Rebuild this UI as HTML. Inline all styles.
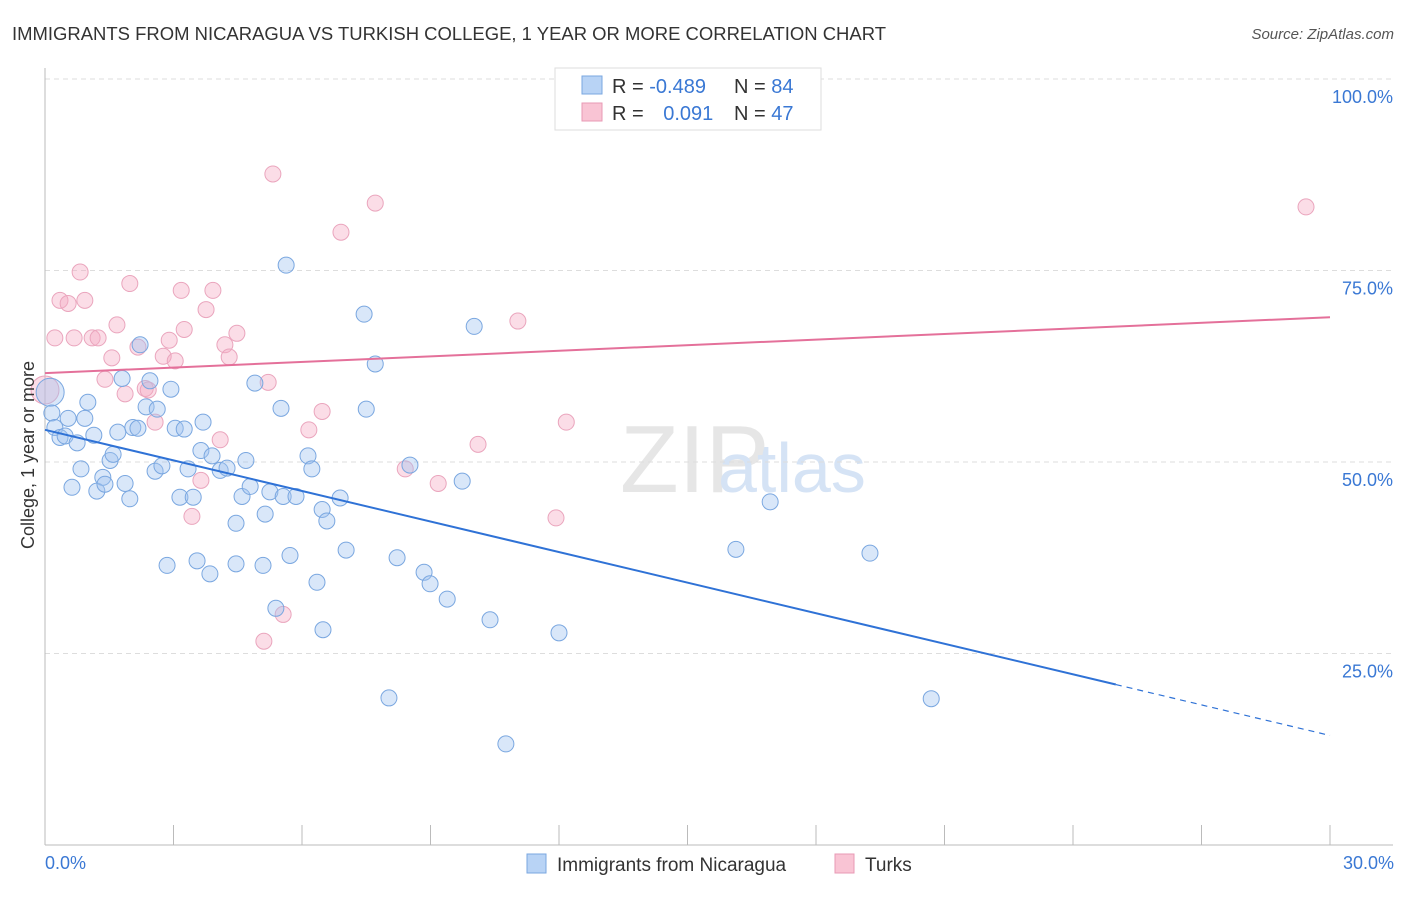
<!DOCTYPE html>
<html><head><meta charset="utf-8"><style>
body{margin:0;background:#fff;font-family:"Liberation Sans",sans-serif;}
svg text{font-family:"Liberation Sans",sans-serif;}
</style></head><body>
<svg id="chart" width="1406" height="892" xmlns="http://www.w3.org/2000/svg">
<text x="12" y="40" font-size="18" fill="#333" textLength="874" lengthAdjust="spacingAndGlyphs">IMMIGRANTS FROM NICARAGUA VS TURKISH COLLEGE, 1 YEAR OR MORE CORRELATION CHART</text>
<text x="1394" y="39" font-size="15" fill="#555" font-style="italic" text-anchor="end">Source: ZipAtlas.com</text>
<text x="620" y="492" font-size="96" fill="#e6e6e6" font-family="Liberation Serif">ZIP</text>
<text x="718" y="492" font-size="70" fill="#d5e3f5">atlas</text>
<g id="grid"></g><g id="pts"></g><g id="trend"></g>
<text transform="translate(34,455) rotate(-90)" font-size="18" fill="#333" text-anchor="middle">College, 1 year or more</text>
<text x="45" y="869" font-size="18" fill="#3a78d4">0.0%</text>
<text x="1394" y="869" font-size="18" fill="#3a78d4" text-anchor="end">30.0%</text>
<g>
<rect x="555" y="68" width="266" height="62" fill="#fff" stroke="#ddd"/>
<rect x="582" y="76" width="20" height="18" fill="#b8d3f5" stroke="#7aa7e0"/>
<text x="612" y="93" font-size="20" fill="#333">R = <tspan fill="#3a78d4">-0.489</tspan></text>
<text x="734" y="93" font-size="20" fill="#333">N = <tspan fill="#3a78d4">84</tspan></text>
<rect x="582" y="103" width="20" height="18" fill="#f9c4d4" stroke="#e89ab5"/>
<text x="612" y="120" font-size="20" fill="#333">R = <tspan fill="#3a78d4" dx="14">0.091</tspan></text>
<text x="734" y="120" font-size="20" fill="#333">N = <tspan fill="#3a78d4">47</tspan></text>
</g>
<g>
<rect x="527" y="854" width="19" height="19" fill="#b8d3f5" stroke="#7aa7e0"/>
<text x="557" y="871" font-size="19" fill="#333">Immigrants from Nicaragua</text>
<rect x="835" y="854" width="19" height="19" fill="#f9c4d4" stroke="#e89ab5"/>
<text x="865" y="871" font-size="19" fill="#333">Turks</text>
</g>
</svg>
<script>
const blueX=[0.12,0.16,0.23,0.35,0.54,0.47,0.75,0.63,0.84,1.0,0.93,1.14,1.21,1.35,1.4,1.52,1.59,1.7,1.8,1.87,1.98,2.05,2.17,2.22,2.36,2.45,2.62,2.57,2.73,2.85,2.94,3.04,3.15,3.25,3.34,3.46,3.55,3.64,3.69,3.85,3.9,4.09,4.25,4.46,4.46,4.6,4.69,4.79,4.9,5.09,5.14,5.25,5.39,5.51,5.56,5.63,5.72,5.86,6.14,6.23,6.35,6.47,6.49,6.58,6.89,7.03,7.45,7.5,7.71,8.03,8.22,8.52,8.85,8.99,9.39,9.74,10.02,10.39,10.76,12.0,16.13,16.93,19.26,20.69];
const blueY=[59.1,56.4,54.5,53.2,55.7,53.4,52.5,46.7,49.1,57.8,55.7,53.5,46.2,48.0,47.1,50.2,51.0,53.9,60.9,47.2,45.2,54.5,54.4,65.3,57.2,60.6,56.9,48.8,49.5,36.5,59.5,54.4,45.4,54.3,49.1,45.4,37.1,51.5,55.2,35.4,50.8,48.9,49.2,42.0,36.7,45.5,50.2,46.8,60.3,36.5,43.2,46.1,30.9,57.0,45.5,75.7,37.8,45.5,50.8,49.1,34.3,43.8,28.1,42.3,45.3,38.5,69.3,56.9,62.8,19.2,37.5,49.6,35.6,34.1,32.1,47.5,67.7,29.4,13.2,27.7,38.6,44.8,38.1,19.1];
const pinkX=[0,0.23,0.35,0.54,0.68,0.82,0.93,1.1,1.24,1.4,1.56,1.68,1.87,1.98,2.17,2.34,2.41,2.57,2.76,2.9,3.04,3.18,3.25,3.43,3.64,3.76,3.92,4.09,4.2,4.3,4.48,5.11,5.21,5.32,5.56,6.16,6.47,6.91,7.71,8.41,9.18,10.11,11.04,11.93,12.17,12.28,29.44];
const pinkY=[59.4,66.2,71.1,70.7,66.2,74.8,71.1,66.2,66.2,60.8,63.6,67.9,58.9,73.3,65.0,59.6,59.4,55.2,63.8,65.9,63.2,72.4,67.3,42.9,47.6,69.9,72.4,52.9,65.3,63.7,66.8,26.6,60.4,87.6,30.1,54.2,56.6,80.0,83.8,49.1,47.2,52.3,68.4,42.7,55.2,95.1,83.3];
const yTicks=[25,50,75,100];
const blueTrend=[54.2,14.3]; const pinkTrend=[61.6,68.9];
const NS="http://www.w3.org/2000/svg";
const sx=v=>45+v/30*1285, sy=v=>845-v*7.66;
function mk(t,a,p){const e=document.createElementNS(NS,t);for(const k in a)e.setAttribute(k,a[k]);p.appendChild(e);return e;}
const grid=document.getElementById('grid');
yTicks.forEach(t=>{
 const l=mk('line',{x1:45,x2:1393,y1:sy(t),y2:sy(t),stroke:'#ddd','stroke-dasharray':'5,4'},grid);
 
 
 const tx=mk('text',{x:1393,y:sy(t)+24,'font-size':18,fill:'#3a78d4','text-anchor':'end'},grid);
 tx.textContent=t.toFixed(1)+'%';
 
 
});
const ax=mk('line',{x1:45,x2:1393,y1:845,y2:845,stroke:'#bbb'},grid);


const ay=mk('line',{x1:45,x2:45,y1:68,y2:845,stroke:'#bbb'},grid);


for(let i=0;i<=10;i++){const tk=mk('line',{x1:sx(i*3),x2:sx(i*3),y1:825,y2:845,stroke:'#bbb'},grid);
 
 }
const pts=document.getElementById('pts');
function draw(X,Y,fill,stroke,name){X.forEach((x,i)=>{const big=(i===0);
 const c=mk('circle',{cx:sx(x),cy:sy(Y[i]),r:big?14:8,fill:fill,stroke:stroke,'stroke-width':1},pts);
 
 });}
draw(pinkX,pinkY,'rgba(244,170,195,0.4)','#eaa5bd','turks-point');
draw(blueX,blueY,'rgba(160,196,240,0.4)','#7aa7e0','nicaragua-point');
const tr=document.getElementById('trend');
const bAt=x=>blueTrend[0]+(blueTrend[1]-blueTrend[0])*x/30;
const b1=mk('line',{x1:sx(0),y1:sy(bAt(0)),x2:sx(25),y2:sy(bAt(25)),stroke:'#2f72d6','stroke-width':2},tr);


const b2=mk('line',{x1:sx(25),y1:sy(bAt(25)),x2:sx(30),y2:sy(bAt(30)),stroke:'#2f72d6','stroke-width':1.2,'stroke-dasharray':'6,5'},tr);


const p1=mk('line',{x1:sx(0),y1:sy(pinkTrend[0]),x2:sx(30),y2:sy(pinkTrend[1]),stroke:'#e4709a','stroke-width':2},tr);


</script>
</body></html>
